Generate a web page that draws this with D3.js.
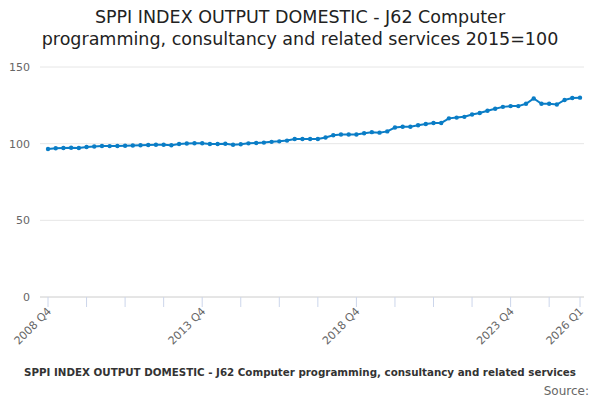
<!DOCTYPE html><html><head><meta charset="utf-8"><script src="https://cdn.jsdelivr.net/npm/d3@7"></script>
<style>body{margin:0;background:#fff}svg{font-family:"DejaVu Sans",sans-serif}</style></head><body><svg width="600" height="400"></svg>
<script>
const values=[96.5,97,97.2,97.3,97.2,97.8,98.2,98.5,98.4,98.5,98.6,98.8,99,99.1,99.3,99.3,99,99.8,100.1,100.3,100.3,99.8,99.8,99.9,99.3,99.6,100.2,100.4,100.7,101.2,101.5,102,103,103,103,103,104,105.5,106,106,106,106.8,107.5,107.2,108,110.5,111,111,112,112.8,113.5,113.5,116.5,117,117.5,119,120,121.5,122.8,124,124.5,124.5,126,129.5,126,126,125.5,128.5,129.8,130];
const categories=values.map((v,i)=>{const q=(3+i)%4+1,y=2008+Math.floor((3+i)/4);return y+" Q"+q;});
const tickLabels=["2008 Q4","2013 Q4","2018 Q4","2023 Q4","2026 Q1"];
const yTicks=[0,50,100,150];
const svg=d3.select("svg");
const x=d3.scalePoint().domain(categories).range([48,580]);
const y=d3.scaleLinear().domain([0,150]).range([297,67]);
svg.append("text").attr("x",300).attr("y",23).attr("text-anchor","middle").attr("font-size",17.5).attr("fill","#222").text("SPPI INDEX OUTPUT DOMESTIC - J62 Computer");
svg.append("text").attr("x",300).attr("y",45).attr("text-anchor","middle").attr("font-size",17.5).attr("fill","#222").text("programming, consultancy and related services 2015=100");
yTicks.forEach(t=>{svg.append("line").attr("x1",40).attr("x2",584).attr("y1",y(t)).attr("y2",y(t)).attr("stroke",t==0?"#ccc":"#e6e6e6");
svg.append("text").attr("x",30).attr("y",y(t)+4).attr("text-anchor","end").attr("font-size",11).attr("fill","#666").text(t);});
categories.forEach((c,i)=>{if(i%5==0||i==categories.length-1)svg.append("line").attr("x1",x(c)).attr("x2",x(c)).attr("y1",297).attr("y2",307).attr("stroke","#ccd6eb");});
tickLabels.forEach(c=>{svg.append("text").attr("transform",`translate(${x(c)+4},${312}) rotate(-45)`).attr("text-anchor","end").attr("font-size",11).attr("fill","#666").text(c);});
svg.append("path").datum(values).attr("fill","none").attr("stroke","#0a7dc6").attr("stroke-width",2)
 .attr("d",d3.line().x((d,i)=>x(categories[i])).y(d=>y(d)));
svg.selectAll("circle").data(values).join("circle").attr("cx",(d,i)=>x(categories[i])).attr("cy",d=>y(d)).attr("r",2.2).attr("fill","#0a7dc6");
svg.append("text").attr("x",300).attr("y",376).attr("text-anchor","middle").attr("font-size",10.3).attr("font-weight","bold").attr("fill","#333").text("SPPI INDEX OUTPUT DOMESTIC - J62 Computer programming, consultancy and related services");
svg.append("text").attr("x",589).attr("y",395).attr("text-anchor","end").attr("font-size",12).attr("fill","#666").text("Source:");
</script></body></html>
